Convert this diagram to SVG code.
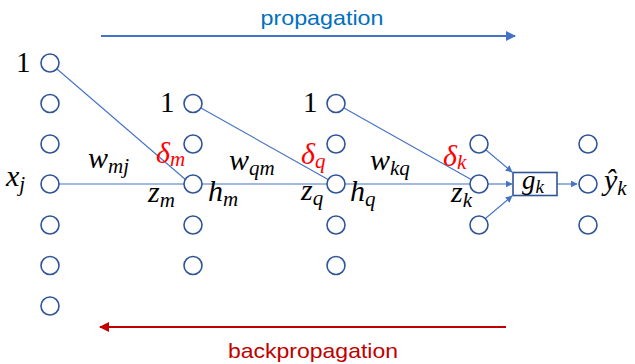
<svg xmlns="http://www.w3.org/2000/svg" width="635" height="364" viewBox="0 0 635 364">
<defs>
<style>
.n{fill:#fff;stroke:#2F5597;stroke-width:1.6}
.c{stroke:#4472C4;stroke-width:1.1;fill:none}
.m{font-family:"Liberation Serif","DejaVu Serif",serif;font-style:italic;font-size:30px;fill:#000}
.s{font-size:21px}
.r{fill:#FF0000}
.one{font-family:"Liberation Serif","DejaVu Serif",serif;font-size:29px;fill:#000}
.lab{font-family:"Liberation Sans","Open Sans",sans-serif;font-size:21px}
</style>
<marker id="ab" viewBox="0 0 10 10" refX="9" refY="5" markerWidth="7" markerHeight="7" orient="auto" markerUnits="userSpaceOnUse"><path d="M0,0L10,5L0,10z" fill="#4472C4"/></marker>
<marker id="ab2" viewBox="0 0 10 10" refX="9" refY="5" markerWidth="10" markerHeight="10" orient="auto" markerUnits="userSpaceOnUse"><path d="M0,0L10,5L0,10z" fill="#4472C4"/></marker>
<marker id="ar" viewBox="0 0 10 10" refX="9" refY="5" markerWidth="10" markerHeight="10" orient="auto" markerUnits="userSpaceOnUse"><path d="M0,0L10,5L0,10z" fill="#C00000"/></marker>
</defs>
<rect width="635" height="364" fill="#fff"/>
<g id="connectors">
<line class="c" x1="57" y1="69" x2="186" y2="180"/>
<line class="c" x1="59" y1="184" x2="184" y2="184"/>
<line class="c" x1="201" y1="108" x2="329" y2="180"/>
<line class="c" x1="202" y1="184" x2="327" y2="184"/>
<line class="c" x1="344" y1="108" x2="472" y2="180"/>
<line class="c" x1="345" y1="184" x2="470" y2="184"/>
<line class="c" x1="486" y1="150" x2="512" y2="172" marker-end="url(#ab)"/>
<line class="c" x1="488" y1="184" x2="512" y2="184" marker-end="url(#ab)"/>
<line class="c" x1="486" y1="218" x2="512" y2="196" marker-end="url(#ab)"/>
<line class="c" x1="557" y1="184" x2="577" y2="184" marker-end="url(#ab)"/>
<line x1="101" y1="36" x2="515" y2="36" stroke="#4472C4" stroke-width="2" marker-end="url(#ab2)"/>
<line x1="506" y1="327" x2="100" y2="327" stroke="#C00000" stroke-width="2" marker-end="url(#ar)"/>
</g>
<g id="col1">
<circle class="n" cx="50" cy="63" r="9"/>
<circle class="n" cx="50" cy="103.5" r="9"/>
<circle class="n" cx="50" cy="144" r="9"/>
<circle class="n" cx="50" cy="184" r="9"/>
<circle class="n" cx="50" cy="225" r="9"/>
<circle class="n" cx="50" cy="265.5" r="9"/>
<circle class="n" cx="50" cy="306" r="9"/>
</g>
<g id="col2">
<circle class="n" cx="193" cy="103.5" r="9"/>
<circle class="n" cx="193" cy="144" r="9"/>
<circle class="n" cx="193" cy="184" r="9"/>
<circle class="n" cx="193" cy="225" r="9"/>
<circle class="n" cx="193" cy="265.5" r="9"/>
</g>
<g id="col3">
<circle class="n" cx="336" cy="103.5" r="9"/>
<circle class="n" cx="336" cy="144" r="9"/>
<circle class="n" cx="336" cy="184" r="9"/>
<circle class="n" cx="336" cy="225" r="9"/>
<circle class="n" cx="336" cy="265.5" r="9"/>
</g>
<g id="col4">
<circle class="n" cx="479" cy="144" r="9"/>
<circle class="n" cx="479" cy="184" r="9"/>
<circle class="n" cx="479" cy="225" r="9"/>
</g>
<g id="gk">
<rect x="513" y="172.5" width="44" height="23" fill="#fff" stroke="#2F5597" stroke-width="1.6"/>
<text class="m" x="522" y="189" style="font-size:27px">g<tspan class="s" dy="4" style="font-size:19px">k</tspan></text>
</g>
<g id="col5">
<circle class="n" cx="588" cy="144" r="9"/>
<circle class="n" cx="588" cy="184" r="9"/>
<circle class="n" cx="588" cy="225" r="9"/>
</g>
<g id="labels">
<text class="one" x="16" y="72">1</text>
<text class="one" x="160" y="112">1</text>
<text class="one" x="303" y="112">1</text>
<text class="m" x="6" y="186">x<tspan class="s" dy="5">j</tspan></text>
<text class="m" x="88" y="168">w<tspan class="s" dy="5">mj</tspan></text>
<text class="m r" x="156" y="163">δ<tspan class="s" dy="3">m</tspan></text>
<text class="m" x="148" y="202">z<tspan class="s" dy="5">m</tspan></text>
<text class="m" x="208" y="201">h<tspan class="s" dy="5">m</tspan></text>
<text class="m" x="229" y="170">w<tspan class="s" dy="5">qm</tspan></text>
<text class="m r" x="301" y="164">δ<tspan class="s" dy="4">q</tspan></text>
<text class="m" x="301" y="200">z<tspan class="s" dy="5">q</tspan></text>
<text class="m" x="350" y="201">h<tspan class="s" dy="5">q</tspan></text>
<text class="m" x="370" y="170">w<tspan class="s" dy="5">kq</tspan></text>
<text class="m r" x="443" y="166">δ<tspan class="s" dy="3">k</tspan></text>
<text class="m" x="451" y="202">z<tspan class="s" dy="5">k</tspan></text>
<text class="m" x="604" y="190">ŷ<tspan class="s" dy="5">k</tspan></text>
<text class="lab" x="322" y="25" text-anchor="middle" fill="#0070C0" textLength="123" lengthAdjust="spacingAndGlyphs">propagation</text>
<text class="lab" x="313" y="358" text-anchor="middle" fill="#C00000" textLength="170" lengthAdjust="spacingAndGlyphs">backpropagation</text>
</g>
</svg>
